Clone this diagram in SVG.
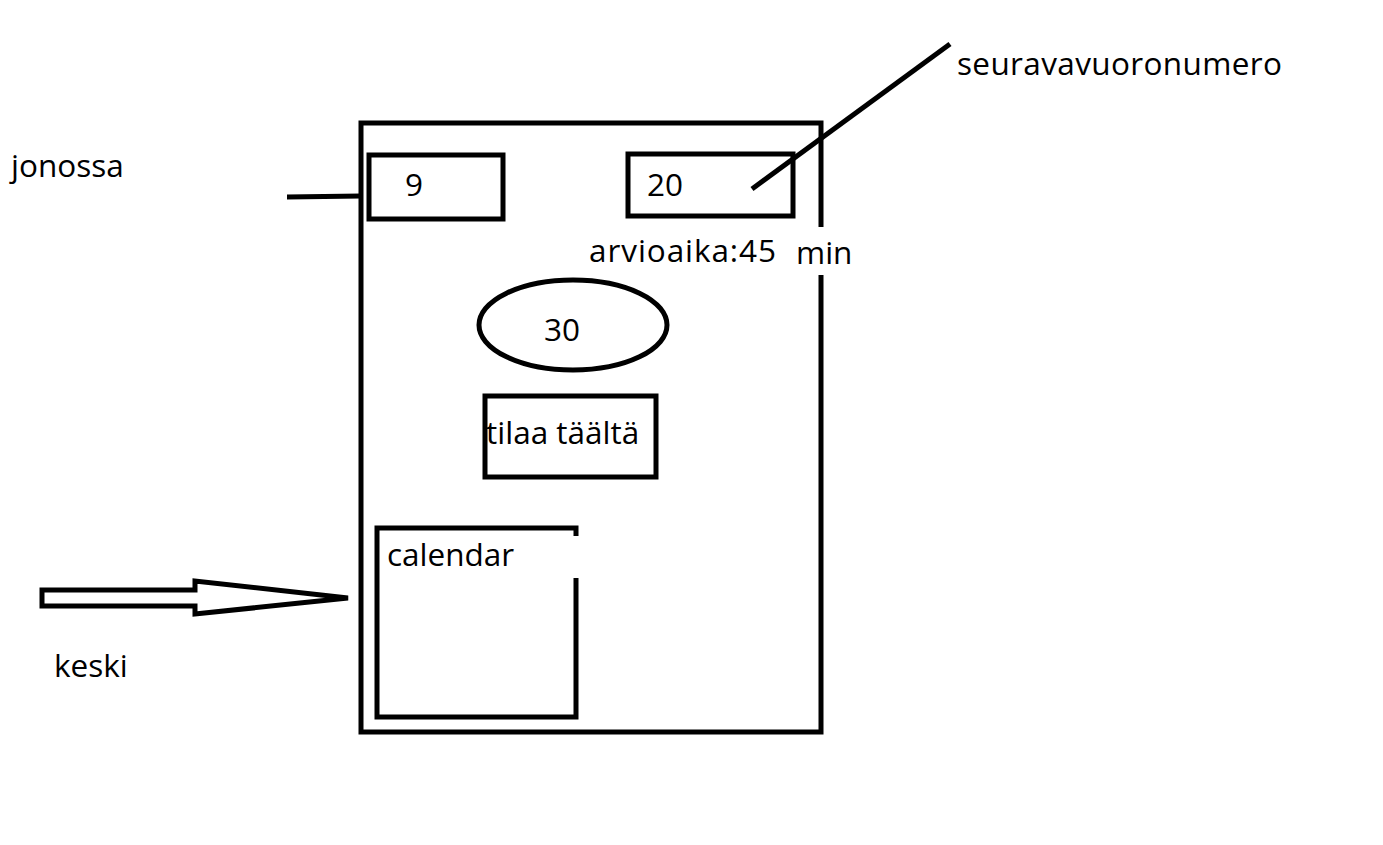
<svg xmlns="http://www.w3.org/2000/svg" width="1383" height="845" viewBox="0 0 1383 845">
<style>
.s{fill:none;stroke:#000;stroke-width:5}
.t{font-family:"Open Sans","Noto Sans",sans-serif;font-size:31.5px;fill:#000}
</style>
<rect width="1383" height="845" fill="#fff"/>
<g id="phone">
<path class="s" d="M821,227 V123 H361 V732 H821 V275"/>
</g>
<g id="queue-box"><rect class="s" x="369" y="155" width="134" height="64"/><text class="t" x="405" y="196">9</text></g>
<g id="next-box"><rect class="s" x="628" y="154" width="165" height="62"/><text class="t" x="647" y="196">20</text></g>
<g id="estimate"><text class="t" x="589" y="262" textLength="187" lengthAdjust="spacing">arvioaika:45</text><text class="t" x="796" y="264">min</text></g>
<g id="timer"><ellipse class="s" cx="573" cy="325" rx="94" ry="45"/><text class="t" x="544" y="341">30</text></g>
<g id="order"><rect class="s" x="485" y="396" width="171" height="81"/><text class="t" x="486" y="444">tilaa täältä</text></g>
<g id="calendar"><path class="s" d="M576,536 V528 H377 V717 H576 V578"/><text class="t" x="387" y="566">calendar</text></g>
<g id="labels">
<text class="t" x="11" y="177">jonossa</text>
<text class="t" x="957" y="75" textLength="325" lengthAdjust="spacing">seuravavuoronumero</text>
<text class="t" x="54" y="677">keski</text>
</g>
<g id="connectors">
<line class="s" x1="287" y1="197" x2="361" y2="196"/>
<line class="s" x1="752" y1="189" x2="950" y2="44"/>
<polygon class="s" stroke-linejoin="miter" points="42,590 195,590 195,581 348,598 195,614 195,606 42,606"/>
</g>
</svg>
